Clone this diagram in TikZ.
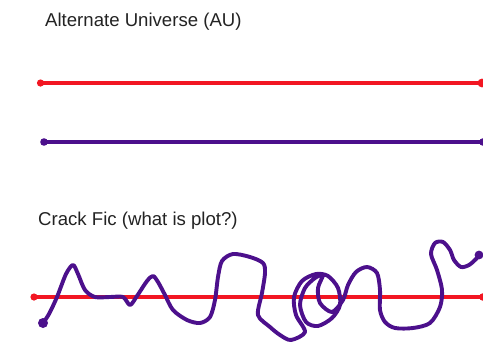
\documentclass[tikz,border=0pt]{standalone}
\usepackage{fontspec}
\setmainfont{Liberation Sans}
\definecolor{lred}{RGB}{242,22,34}
\definecolor{lpurple}{RGB}{76,16,140}
\definecolor{txt}{RGB}{35,35,35}
\begin{document}
\begin{tikzpicture}[x=1pt,y=-1pt,
  title/.style={anchor=base west,inner sep=0pt,font=\fontsize{18.6}{20}\selectfont,text=txt},
  redline/.style={draw=lred,line width=3.8pt},
  purpline/.style={draw=lpurple,line width=3.6pt},
  squiggle/.style={draw=lpurple,line width=3.9pt,line cap=round,line join=round}]
\clip (0,0) rectangle (483,341);
\fill[white] (0,0) rectangle (483,341);
\node[title] (t1) at (45,26) {Alternate Universe (AU)};
\node[title] (t2) at (38,225) {Crack Fic (what is plot?)};
% AU lines
\coordinate (r1a) at (40.5,83);
\coordinate (r1b) at (482,83);
\coordinate (p1a) at (44,142);
\coordinate (p1b) at (483,142);
\draw[redline] (r1a) -- (r1b);
\fill[lred] (r1a) circle (3.6) (r1b) circle (4.4);
\draw[purpline] (p1a) -- (p1b);
\fill[lpurple] (p1a) circle (3.8) (p1b) circle (3.8);
% Crack fic
\coordinate (r2a) at (34,297);
\coordinate (r2b) at (483,297);
\draw[redline] (r2a) -- (r2b);
\fill[lred] (r2a) circle (3.6) (r2b) circle (3.8);
\coordinate (s0) at (43,323);
\coordinate (s1) at (479,255);
\draw[squiggle] plot[smooth,tension=0.5] coordinates {
 (43,323) (49,314) (57,297) (66,274) (73,265) (78,274) (85,290) (95,297)
 (110,297) (123,297) (130,305) (137,296) (147,281) (153,276) (158,282)
 (165,295) (173,310) (187,320) (200,323) (210,317) (215,300) (218,277)
 (222,261) (233,254) (250,257) (263,263) (265,273) (262,293) (258,315)
 (270,327) (280,335) (291,340) (305,332) (296,315) (294,297) (302,281)
 (316,274) (328,276) (338,288) (340,305) (332,318) (318,326) (306,322)
 (300,305) (305,288) (315,278) (323,275) (318,288) (320,303) (332,312)
 (343,300) (348,285) (356,272) (367,267) (377,273) (380,290) (380,310)
 (385,322) (395,328) (413,328) (430,323) (440,307) (442,290) (437,270)
 (431,254) (435,243) (443,242) (450,250) (454,260) (461,267) (469,265)
 (476,259) (479,255)};
\fill[lpurple] (s0) circle (5) (s1) circle (4.4);
\end{tikzpicture}
\end{document}
